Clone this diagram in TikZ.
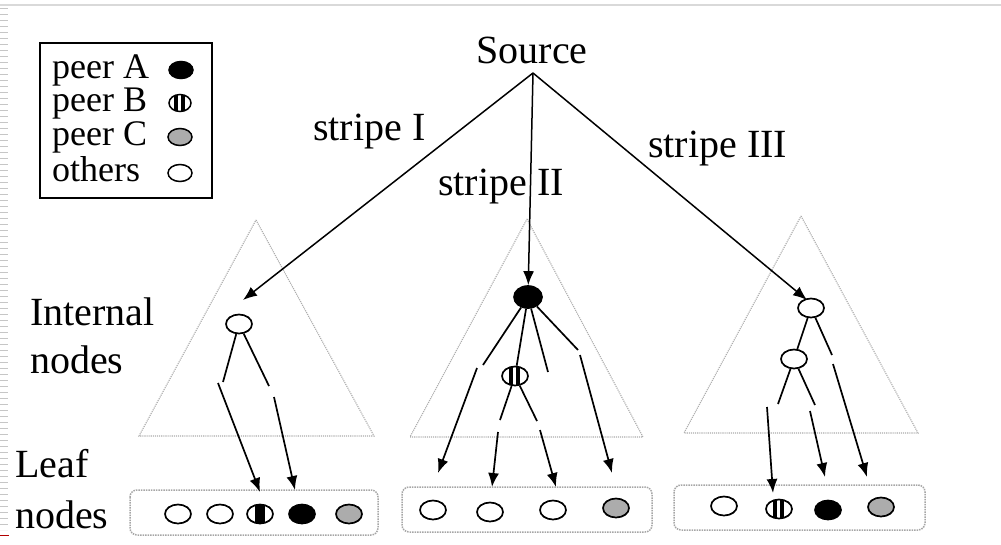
\documentclass[tikz,border=0pt]{standalone}
\usepackage{fontspec}
\setmainfont{Liberation Serif}
\usetikzlibrary{arrows.meta,shapes.geometric}
\begin{document}
\begin{tikzpicture}[x=1pt,y=-1pt,
  lbl/.style={font=\fontsize{40}{44}\selectfont,inner sep=0pt,anchor=base west},
  leg/.style={font=\fontsize{36}{40}\selectfont,inner sep=0pt,anchor=base west},
  pn/.style={ellipse,draw=black,line width=1.7pt,minimum width=26pt,minimum height=19pt,inner sep=0pt},
  lpn/.style={ellipse,draw=black,line width=1.5pt,minimum width=24pt,minimum height=17pt,inner sep=0pt},
  pa/.style={fill=black},
  pc/.style={fill=gray!65},
  po/.style={fill=white},
  pb/.style={fill=white,path picture={
     \fill[black] ([xshift=-6pt]path picture bounding box.south) rectangle ([xshift=-2.5pt]path picture bounding box.north);
     \fill[black] ([xshift=1pt]path picture bounding box.south) rectangle ([xshift=4.5pt]path picture bounding box.north);}},
  ph/.style={fill=white,path picture={
     \fill[black] ([xshift=-5pt]path picture bounding box.south) rectangle ([xshift=5pt]path picture bounding box.north);}},
  tri/.style={draw=gray!65,densely dotted,line width=1.1pt},
  leafbox/.style={draw=gray!70,densely dotted,line width=1.5pt,rounded corners=7pt},
  edge/.style={line width=1.7pt},
  arr/.style={line width=1.7pt,-{Latex[length=14pt,width=11pt]}},
  sarr/.style={line width=1.5pt,-{Latex[length=14pt,width=11pt]}}]
\useasboundingbox (0,0) rectangle (1001,544);
\fill[white] (0,0) rectangle (1001,544);
% slide artifacts
\draw[gray!30,line width=1.5pt] (0,5) -- (1001,5);
\draw[gray!45,line width=8pt,dash pattern=on 1pt off 5pt] (4,8) -- (4,530);
\draw[red!70!black,line width=1pt] (0,535) -- (9,535);

% legend
\draw[line width=1.8pt] (40,43) rectangle (212,198);
\node[leg] (lA) at (52,78) {peer A};
\node[leg] (lB) at (52,111) {peer B};
\node[leg] (lC) at (52,145) {peer C};
\node[leg] (lO) at (52,181) {others};
\node[lpn,pa] (cA) at (181,70) {};
\node[lpn,pb,minimum width=22pt] (cB) at (180,103) {};
\node[lpn,pc] (cC) at (180,137) {};
\node[lpn,po] (cO) at (180,173) {};

% labels
\node[lbl,anchor=base] (srcl) at (532,63) {Source};
\coordinate (src) at (533,73);
\node[lbl] (s1) at (313,140) {stripe I};
\node[lbl] (s2) at (438,195) {stripe II};
\node[lbl] (s3) at (648,157) {stripe III};
\node[lbl] (int1) at (30,325) {Internal};
\node[lbl] (int2) at (30,373) {nodes};
\node[lbl] (leaf1) at (15,477) {Leaf};
\node[lbl] (leaf2) at (15,528) {nodes};

% triangles
\draw[tri] (256,220) -- (374,436) -- (139,436) -- cycle;
\draw[tri] (527,219) -- (643,437) -- (410,437) -- cycle;
\draw[tri] (801,216) -- (918,433) -- (684,433) -- cycle;

% leaf boxes
\draw[leafbox] (130,490) rectangle (378,535);
\draw[leafbox] (402,487) rectangle (652,532);
\draw[leafbox] (674,485) rectangle (925,530);

% left tree
\node[pn,po] (L1) at (239,324) {};
\coordinate (L1a) at (223,382);
\coordinate (L1b) at (269,386);
\draw[edge] (L1) -- (L1a);
\draw[edge] (L1) -- (L1b);
\coordinate (L1c) at (218,383);
\coordinate (L1d) at (274,397);

% left leaves
\node[pn,po] (LL1) at (178,514) {};
\node[pn,po] (LL2) at (220,514) {};
\node[pn,ph] (LL3) at (260,514) {};
\node[pn,pa] (LL4) at (302,514) {};
\node[pn,pc] (LL5) at (349,514) {};
\draw[arr] (L1c) -- (260,492);
\draw[arr] (L1d) -- (295,490);

% middle tree
\node[pn,pa,minimum width=28pt,minimum height=22pt] (M1) at (528,297) {};
\node[pn,pb] (M2) at (515,376) {};
\coordinate (M1a) at (483,365);
\coordinate (M1c) at (548,372);
\coordinate (M1d) at (578,350);
\draw[edge] (M1) -- (M1a);
\draw[edge] (M1) -- (M2);
\draw[edge] (M1) -- (M1c);
\draw[edge] (M1) -- (M1d);
\coordinate (M2a) at (500,420);
\coordinate (M2b) at (537,421);
\draw[edge] (M2) -- (M2a);
\draw[edge] (M2) -- (M2b);

% middle leaves
\node[pn,po] (ML1) at (433,510) {};
\node[pn,po] (ML2) at (490,512) {};
\node[pn,po] (ML3) at (553,510) {};
\node[pn,pc] (ML4) at (616,508) {};
\draw[arr] (477,368) -- (438,473);
\draw[arr] (498,432) -- (492,487);
\draw[arr] (540,430) -- (556,487);
\draw[arr] (580,355) -- (612,473);

% right tree
\node[pn,po] (R1) at (811,308) {};
\node[pn,po] (R2) at (794,359) {};
\coordinate (R1b) at (832,355);
\draw[edge] (R1) -- (R2);
\draw[edge] (R1) -- (R1b);
\coordinate (R2a) at (778,404);
\coordinate (R2b) at (815,405);
\draw[edge] (R2) -- (R2a);
\draw[edge] (R2) -- (R2b);

% right leaves
\node[pn,po] (RL1) at (724,506) {};
\node[pn,pb] (RL2) at (779,509) {};
\node[pn,pa] (RL3) at (828,510) {};
\node[pn,pc] (RL4) at (881,507) {};
\draw[arr] (767,407) -- (773,493);
\draw[arr] (810,411) -- (825,477);
\draw[arr] (833,364) -- (867,477);

% stripes from source
\draw[sarr] (src) -- (243,300);
\draw[sarr] (src) -- (M1);
\draw[sarr] (src) -- (807,300);
\end{tikzpicture}
\end{document}
